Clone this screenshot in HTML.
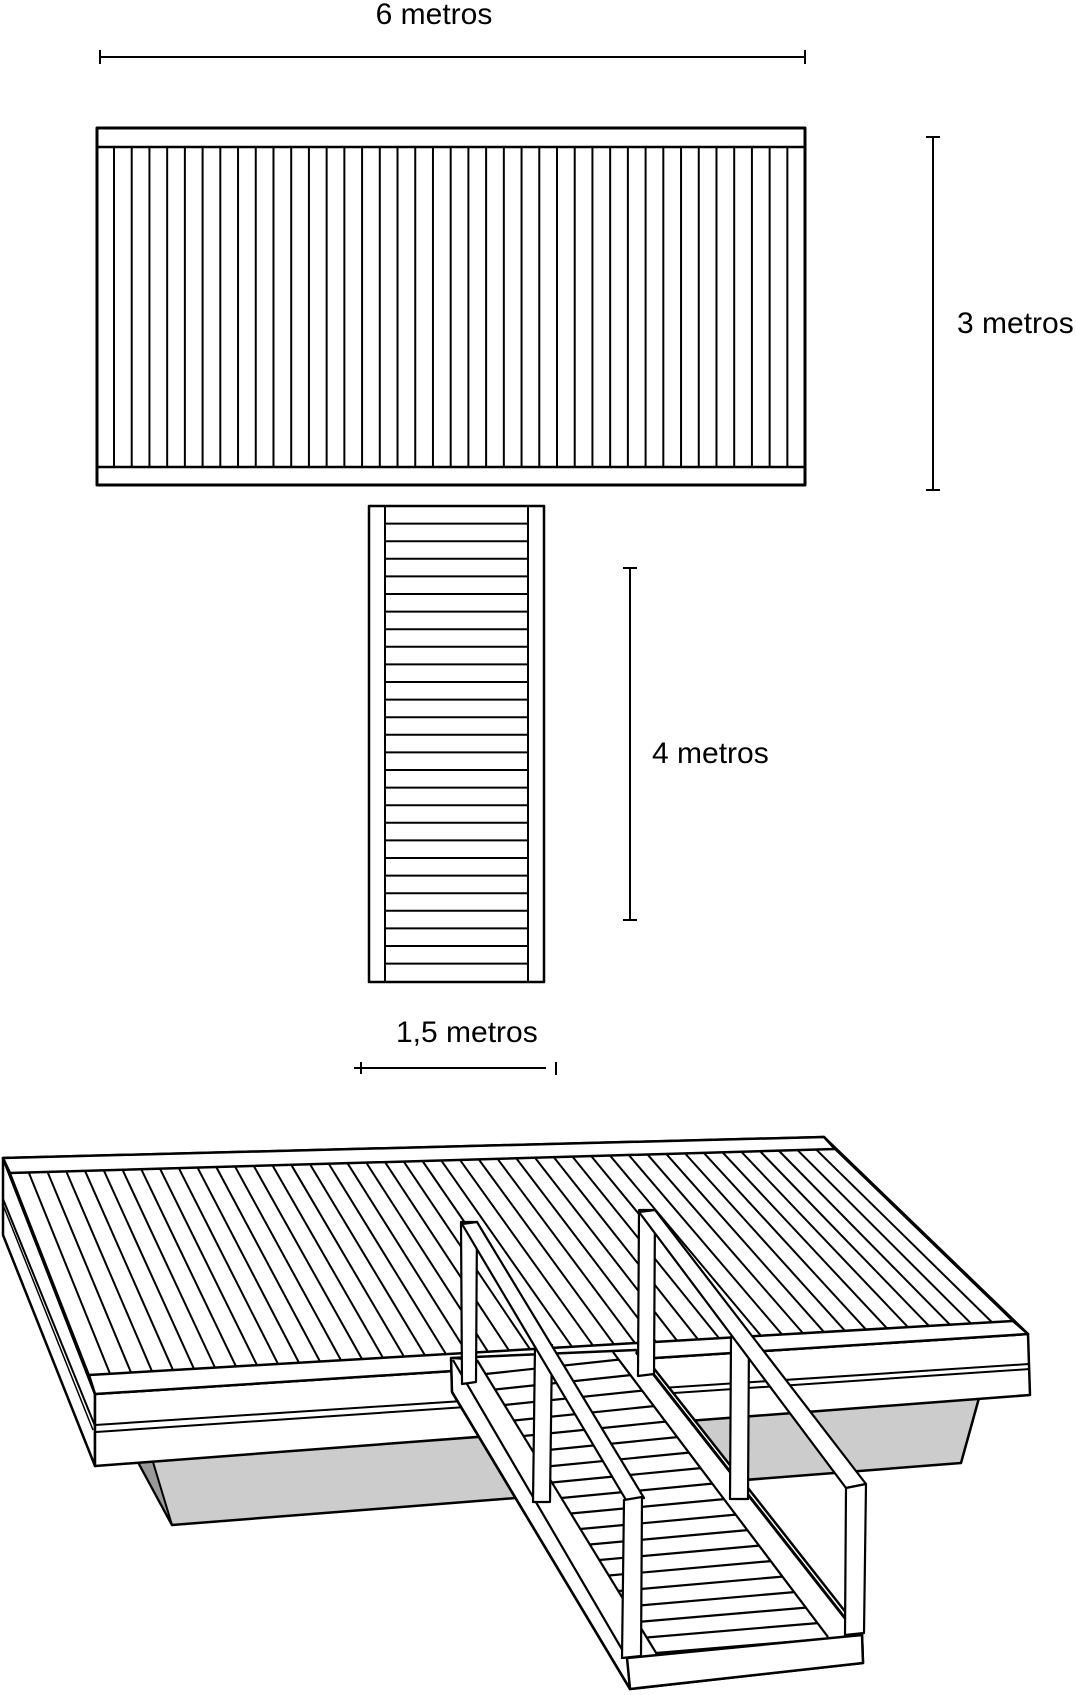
<!DOCTYPE html>
<html><head><meta charset="utf-8"><style>
html,body{margin:0;padding:0;background:#fff;}
svg{display:block;}
text{font-family:"Liberation Sans",Arial,sans-serif;font-size:30px;fill:#000;}
</style></head><body>
<svg id="s" width="1076" height="1695" viewBox="0 0 1076 1695" xmlns="http://www.w3.org/2000/svg" stroke="#000" fill="none" stroke-linejoin="round">
<text x="434" y="24" text-anchor="middle" stroke="none">6 metros</text>
<line x1="100" y1="57" x2="805" y2="57" stroke-width="2"/>
<line x1="100" y1="50" x2="100" y2="64" stroke-width="2"/>
<line x1="805" y1="50" x2="805" y2="64" stroke-width="2"/>

<line x1="933" y1="137" x2="933" y2="490" stroke-width="2"/>
<line x1="926" y1="137" x2="940" y2="137" stroke-width="2"/>
<line x1="926" y1="490" x2="940" y2="490" stroke-width="2"/>
<text x="957" y="333" stroke="none">3 metros</text>

<line x1="630" y1="568" x2="630" y2="920" stroke-width="2"/>
<line x1="623" y1="568" x2="637" y2="568" stroke-width="2"/>
<line x1="623" y1="920" x2="637" y2="920" stroke-width="2"/>
<text x="652" y="763" stroke="none">4 metros</text>

<text x="396" y="1042" stroke="none">1,5 metros</text>
<line x1="354" y1="1068" x2="546" y2="1068" stroke-width="2"/>
<line x1="361" y1="1062" x2="361" y2="1074" stroke-width="2"/>
<line x1="556" y1="1062" x2="556" y2="1075" stroke-width="2"/>

<rect x="97" y="128" width="708" height="357" stroke-width="3" fill="#fff"/>
<line x1="97" y1="147" x2="805" y2="147" stroke-width="2.5"/>
<line x1="97" y1="467" x2="805" y2="467" stroke-width="2.5"/>
<g id="topslats" stroke-width="2"></g>

<rect x="369" y="506" width="175" height="476" stroke-width="2.5" fill="#fff"/>
<line x1="385" y1="506" x2="385" y2="982" stroke-width="2"/>
<line x1="528" y1="506" x2="528" y2="982" stroke-width="2"/>
<g id="wslats" stroke-width="2"></g>

<polygon points="138,1462 979,1398 961,1463 172,1525" fill="#cccccc" stroke-width="2.5"/>
<polygon points="138,1462 153,1462 172,1525" fill="#999" stroke-width="2"/>

<polygon points="3,1158 95,1394 95,1466 3,1235" fill="#fff" stroke-width="2.5"/>
<line x1="3" y1="1199" x2="95" y2="1426" stroke-width="2"/>
<line x1="3" y1="1205" x2="93" y2="1430" stroke-width="1.5"/>
<polygon points="95,1394 1028,1334 1030,1395 95,1466" fill="#fff" stroke-width="2.5"/>
<line x1="95" y1="1425" x2="1029" y2="1364" stroke-width="2"/>
<line x1="96" y1="1432" x2="1030" y2="1369" stroke-width="2"/>
<polygon points="3,1158 824,1137 1028,1334 95,1394" fill="#fff" stroke-width="2.5"/>
<polygon points="3,1158 824,1137 835,1149 10,1173" fill="#fff" stroke-width="2.5"/>
<polygon points="89,1375 1013,1321 1028,1334 95,1394" fill="#fff" stroke-width="2.5"/>
<line x1="835" y1="1149" x2="1013" y2="1321" stroke-width="2"/>
<g id="deckslats" stroke-width="2"></g>

<polygon points="451,1358 636,1350 652,1366 862,1633 863,1663 630,1689 452,1392" fill="#fff" stroke-width="2.5"/>
<g id="treads" stroke-width="2.2"></g>
<line x1="452" y1="1392" x2="630" y2="1689" stroke-width="2.5"/>
<line x1="453" y1="1360" x2="627" y2="1658" stroke-width="2.2"/>
<line x1="477" y1="1360" x2="658" y2="1656" stroke-width="2.2"/>
<line x1="451" y1="1358" x2="452" y2="1392" stroke-width="2.2"/>
<line x1="451" y1="1358" x2="477" y2="1360" stroke-width="2"/>
<line x1="613" y1="1352" x2="828" y2="1637" stroke-width="2.2"/>
<line x1="636" y1="1352" x2="848" y2="1622" stroke-width="3"/>
<polygon points="627,1658 862,1635 863,1663 630,1689" fill="#fff" stroke-width="2.5"/>

<polygon points="535,1345 552,1345 550,1502 533,1502" fill="#fff" stroke-width="2.2"/>
<polygon points="731,1337 749,1337 748,1499 730,1499" fill="#fff" stroke-width="2.2"/>
<polygon points="461,1222 477,1222 476,1382 462,1384" fill="#fff" stroke-width="2.2"/>
<polygon points="639,1210 655,1210 654,1374 638,1376" fill="#fff" stroke-width="2.2"/>
<polygon points="462,1224 477,1222 644,1498 626,1500" fill="#fff" stroke-width="2.2"/>
<polygon points="639,1212 655,1210 866,1484 846,1488" fill="#fff" stroke-width="2.2"/>
<polygon points="624,1500 642,1497 641,1656 622,1658" fill="#fff" stroke-width="2.2"/>
<polygon points="846,1488 866,1484 864,1633 845,1635" fill="#fff" stroke-width="2.2"/>
</svg>
<script>
var NS="http://www.w3.org/2000/svg";
function L(g,x1,y1,x2,y2){var l=document.createElementNS(NS,"line");l.setAttribute("x1",x1);l.setAttribute("y1",y1);l.setAttribute("x2",x2);l.setAttribute("y2",y2);document.getElementById(g).appendChild(l);}
for(var i=0;i<39;i++){var x=114+i*17.72;L("topslats",x,147,x,467);}
for(var k=1;k<27;k++){var y=506+k*17.6;L("wslats",385,y,528,y);}
var bA=[10,1173],bB=[835,1149],fA=[89,1375],fB=[1013,1321];
for(var i=0;i<45;i++){var t=i/44;
 var px=bA[0]+(bB[0]-bA[0])*t,py=bA[1]+(bB[1]-bA[1])*t,qx=fA[0]+(fB[0]-fA[0])*t,qy=fA[1]+(fB[1]-fA[1])*t;
 L("deckslats",px,py,qx,qy);}
for(var j=0;j<19;j++){
 var yl=1374+j*15.5; var tl=(yl-1360)/296; var xl=477+181*tl;
 var yr=yl-0.12*120; var tr=(yr-1352)/285; if(tr<0)tr=0; var xr=613+215*tr; yr=1352+285*tr;
 L("treads",xl,yl,xr,yr);}
</script>
</body></html>
